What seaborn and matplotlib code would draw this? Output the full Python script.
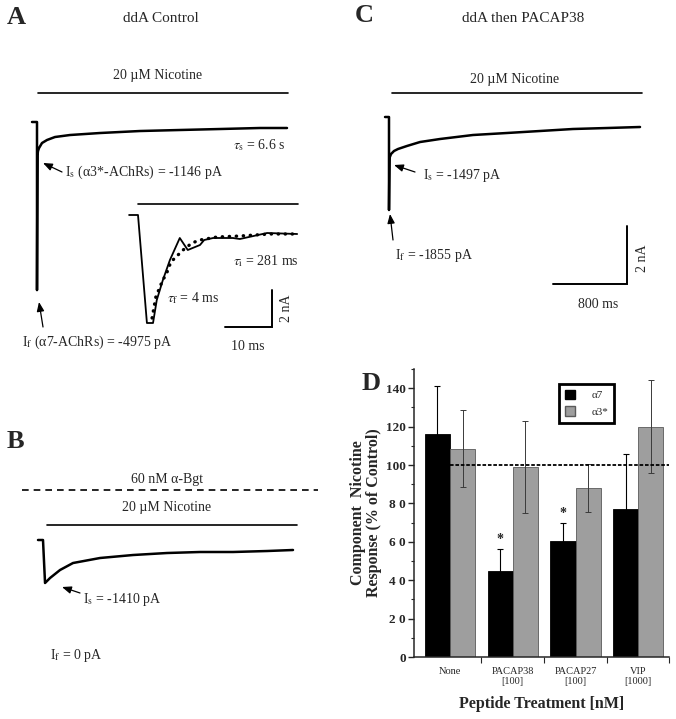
import matplotlib
matplotlib.use("Agg")
import matplotlib.pyplot as plt
from matplotlib.patches import Patch
from matplotlib.ticker import MultipleLocator, FixedLocator
import seaborn as sns
import pandas as pd

# ---------------- data ----------------
# panel D: nicotine response components (% of control)
treatments = ["None", "PACAP38\n[100]", "PACAP27\n[100]", "VIP\n[1000]"]
subunits = ["α7", "α3*"]
a7_mean = [116, 45, 60.5, 77]
a7_err = [25, 11.5, 9.5, 28.5]
a3_mean = [108.5, 99, 88, 120]
a3_err = [20, 24, 12.3, 24.3]
a7_signif = [False, True, True, False]
ytick_vals = [0, 20, 40, 60, 80, 100, 120, 140]
ytick_labels = ["0", "2 0", "4 0", "6 0", "8 0", "100", "120", "140"]

# panel A, whole response (ms, pA)
trace_a_t = [-54, 0, 0, 5, 11, 22, 54, 108, 194, 356, 680, 1112, 1544, 1976, 2408, 2700]
trace_a_i = [0, 0, -5800, -1140, -1000, -897, -725, -621, -518, -449, -380, -311, -276, -242, -207, -207]
# panel A inset, fast component (ms, pA) and its fit
inset_t = [-1.9, 0, 1.9, 3.2, 4.0, 5.3, 6.8, 8.9, 10.6, 13.2, 14.1, 16.0, 20.2, 21.7, 27.5, 33.9]
inset_i = [0, 0, -5832, -5832, -4590, -3510, -2430, -1242, -1890, -1620, -1350, -1242, -1242, -1296, -972, -1026]
fit_t = [3.0, 3.8, 5.1, 6.2, 7.0, 8.3, 9.6, 11.5, 13.2, 16.8, 21.7, 28.1, 33.9]
fit_i = [-5562, -4428, -3618, -3078, -2538, -2214, -1890, -1512, -1350, -1188, -1134, -1026, -1026]
# panel B, after alpha-Bgt
trace_b_t = [-54, 0, 22, 76, 184, 324, 616, 972, 1339, 1696, 2052, 2419, 2700]
trace_b_i = [0, 0, -1484, -1311, -1035, -794, -621, -518, -449, -414, -414, -380, -345]
# panel C, ddA then PACAP38
trace_c_t = [-43, 0, 0, 5, 22, 54, 97, 194, 335, 551, 907, 1274, 1631, 1987, 2354, 2711]
trace_c_i = [0, 0, -3209, -1415, -1277, -1173, -1104, -1000, -863, -759, -621, -552, -483, -414, -380, -345]

# ---------------- style ----------------
sns.set_style("ticks")
plt.rcParams["font.family"] = ["Liberation Serif", "DejaVu Serif"]
plt.rcParams["mathtext.fontset"] = "stix"

W, H = 676, 719
fig = plt.figure(figsize=(W / 100, H / 100), dpi=100)
GRAY = "#9e9e9e"


def trace_axes(x0, y0, x1, y1, ox, oy, ms_px, pa_px):
    """axes placed in pixel box, scaled in ms / pA"""
    ax = fig.add_axes([x0 / W, 1 - y1 / H, (x1 - x0) / W, (y1 - y0) / H])
    ax.set_xlim((x0 - ox) * ms_px, (x1 - ox) * ms_px)
    ax.set_ylim(-(y1 - oy) * pa_px, -(y0 - oy) * pa_px)
    ax.axis("off")
    return ax


def draw_trace(ax, t, i, lw=1.8):
    sns.lineplot(x=t, y=i, sort=False, estimator=None, errorbar=None,
                 color="black", lw=lw, ax=ax)
    ax.axis("off")


def scale_bar(ax, t, i, dt, di):
    ax.plot([t - dt, t, t], [i, i, i + di], color="black", lw=1.4, solid_joinstyle="miter")


# ---------------- traces ----------------
ax_a = trace_axes(20, 105, 310, 300, 37, 122, 10.8, 34.5)
draw_trace(ax_a, trace_a_t, trace_a_i)

ax_in = trace_axes(120, 205, 310, 335, 138, 215, 0.213, 54)
draw_trace(ax_in, inset_t, inset_i, lw=1.3)
ax_in.plot(fit_t, fit_i, color="black", lw=2.4, ls=(0, (0.1, 2.0)), dash_capstyle="round")
scale_bar(ax_in, 28.5, -6050, 10, 2000)

ax_b = trace_axes(20, 530, 320, 600, 43, 540, 10.8, 34.5)
draw_trace(ax_b, trace_b_t, trace_b_i)

ax_c = trace_axes(370, 100, 660, 300, 389, 117, 10.8, 34.5)
draw_trace(ax_c, trace_c_t, trace_c_i)
scale_bar(ax_c, 2570, -5762, 800, 2000)

# ---------------- panel D ----------------
axd = fig.add_axes([414 / W, 1 - 657 / H, 255 / W, 288 / H])
df = pd.DataFrame({
    "treatment": treatments * 2,
    "subunit": [subunits[0]] * 4 + [subunits[1]] * 4,
    "response": a7_mean + a3_mean,
})
sns.barplot(data=df, x="treatment", y="response", hue="subunit", hue_order=subunits,
            palette=["black", GRAY], errorbar=None, width=0.8, legend=False,
            edgecolor="black", linewidth=0.6, ax=axd)
for bar in axd.containers[1]:
    bar.set_edgecolor("#5a5a5a")

x7 = [b.get_x() + b.get_width() / 2 for b in axd.containers[0]]
x3 = [b.get_x() + b.get_width() / 2 for b in axd.containers[1]]
axd.errorbar(x7, a7_mean, yerr=a7_err, fmt="none", ecolor="black", elinewidth=0.8, capsize=2, capthick=0.8)
axd.errorbar(x3, a3_mean, yerr=a3_err, fmt="none", ecolor="#3a3a3a", elinewidth=0.7, capsize=2, capthick=0.7)
for x, m, e, s in zip(x7, a7_mean, a7_err, a7_signif):
    if s:
        axd.text(x, m + e + 1.5, "*", ha="center", va="bottom", fontsize=10, fontweight="bold")

axd.set_xlim(-0.574, 3.49)
axd.set_ylim(0, 150)
axd.hlines(100, 0, 3.49, colors="black", linestyles=(0, (2, 1)), lw=1.3, zorder=5)
sns.despine(ax=axd)
for s in ["left", "bottom"]:
    axd.spines[s].set_linewidth(1.1)
axd.yaxis.set_major_locator(FixedLocator(ytick_vals))
axd.set_yticklabels(ytick_labels, fontsize=9.5, fontweight="bold")
axd.yaxis.set_minor_locator(MultipleLocator(10))
axd.tick_params(axis="y", which="major", length=4, width=1, pad=2)
axd.tick_params(axis="y", which="minor", length=2.5, width=0.8)
axd.xaxis.set_minor_locator(FixedLocator([0.5, 1.5, 2.5, 3.49]))
axd.tick_params(axis="x", which="major", length=0, pad=7)
axd.tick_params(axis="x", which="minor", length=4, width=0.8)
for lab in axd.get_xticklabels():
    lab.set_fontsize(7.5)
    lab.set_linespacing(1.2)
axd.set_ylabel("Component  Nicotine\nResponse (% of Control)", fontsize=11.5,
               fontweight="bold", linespacing=1.0)
axd.yaxis.set_label_coords(-0.125, 0.5)
axd.set_xlabel("Peptide Treatment [nM]", fontsize=11.5, fontweight="bold")
axd.xaxis.set_label_coords(0.5, -0.135)

handles = [Patch(facecolor="black", edgecolor="black", label=subunits[0]),
           Patch(facecolor=GRAY, edgecolor="#5a5a5a", label=subunits[1])]
leg = axd.legend(handles=handles, loc="upper left", bbox_to_anchor=(0.545, 0.968),
                 fontsize=8, handlelength=0.9, handleheight=0.9, handletextpad=1.5,
                 borderpad=0.55, labelspacing=0.55, fancybox=False, framealpha=1)
leg.get_frame().set_edgecolor("black")
leg.get_frame().set_linewidth(2)

# ---------------- overlay: labels, bars, arrows ----------------
ov = fig.add_axes([0, 0, 1, 1])
ov.set_xlim(0, W)
ov.set_ylim(H, 0)
ov.axis("off")


def txt(x, y, s, size=10, ha="left", **kw):
    ov.text(x, y, s, fontsize=size, ha=ha, va="center", **kw)


def arrow(x0, y0, x1, y1):
    ov.annotate("", xy=(x1, y1), xytext=(x0, y0),
                arrowprops=dict(arrowstyle="-|>,head_width=0.22,head_length=0.55",
                                lw=0.9, color="black", shrinkA=0, shrinkB=0))


# panel A
txt(7, 18, "A", 19, fontweight="bold")
txt(161, 18, "ddA Control", 11, ha="center")
txt(158, 76, "20 µM Nicotine", 10, ha="center")
ov.plot([38, 288], [93, 93], color="black", lw=1.2)
txt(233, 145, r"$\tau_\mathrm{s}$ = 6.6 s", 10)
txt(65, 172, r"I$_\mathrm{s}$ (α3*-AChRs) = -1146 pA", 10)
arrow(62, 172, 43, 163)
ov.plot([138, 298], [204, 204], color="black", lw=1.2)
txt(233, 261, r"$\tau_\mathrm{i}$ = 281 ms", 10)
txt(167, 298, r"$\tau_\mathrm{f}$ = 4 ms", 10)
txt(287, 308, "2 nA", 10, ha="center", rotation=90)
txt(248, 346, "10 ms", 10, ha="center")
txt(22, 342, r"I$_\mathrm{f}$ (α7-AChRs) = -4975 pA", 10)
arrow(43, 327, 39, 302)

# panel B
txt(7, 441, "B", 19, fontweight="bold")
txt(167, 479, "60 nM α-Bgt", 10, ha="center")
ov.plot([22, 318], [490, 490], color="black", lw=1.2, ls=(0, (4, 3)))
txt(167, 508, "20 µM Nicotine", 10, ha="center")
ov.plot([47, 297], [525, 525], color="black", lw=1.2)
txt(83, 600, r"I$_\mathrm{s}$ = -1410 pA", 10)
arrow(80, 593, 62, 587)
txt(50, 655, r"I$_\mathrm{f}$ = 0 pA", 10)

# panel C
txt(355, 16, "C", 19, fontweight="bold")
txt(523, 18, "ddA then PACAP38", 11, ha="center")
txt(515, 80, "20 µM Nicotine", 10, ha="center")
ov.plot([392, 642], [93, 93], color="black", lw=1.2)
txt(423, 175, r"I$_\mathrm{s}$ = -1497 pA", 10)
arrow(415, 172, 394, 165)
txt(395, 255, r"I$_\mathrm{f}$ = -1855 pA", 10)
arrow(393, 240, 390, 214)
txt(643, 258, "2 nA", 10, ha="center", rotation=90)
txt(598, 305, "800 ms", 10, ha="center")

# panel D letter
txt(362, 383, "D", 19, fontweight="bold")

fig.savefig("out.png", dpi=100)
